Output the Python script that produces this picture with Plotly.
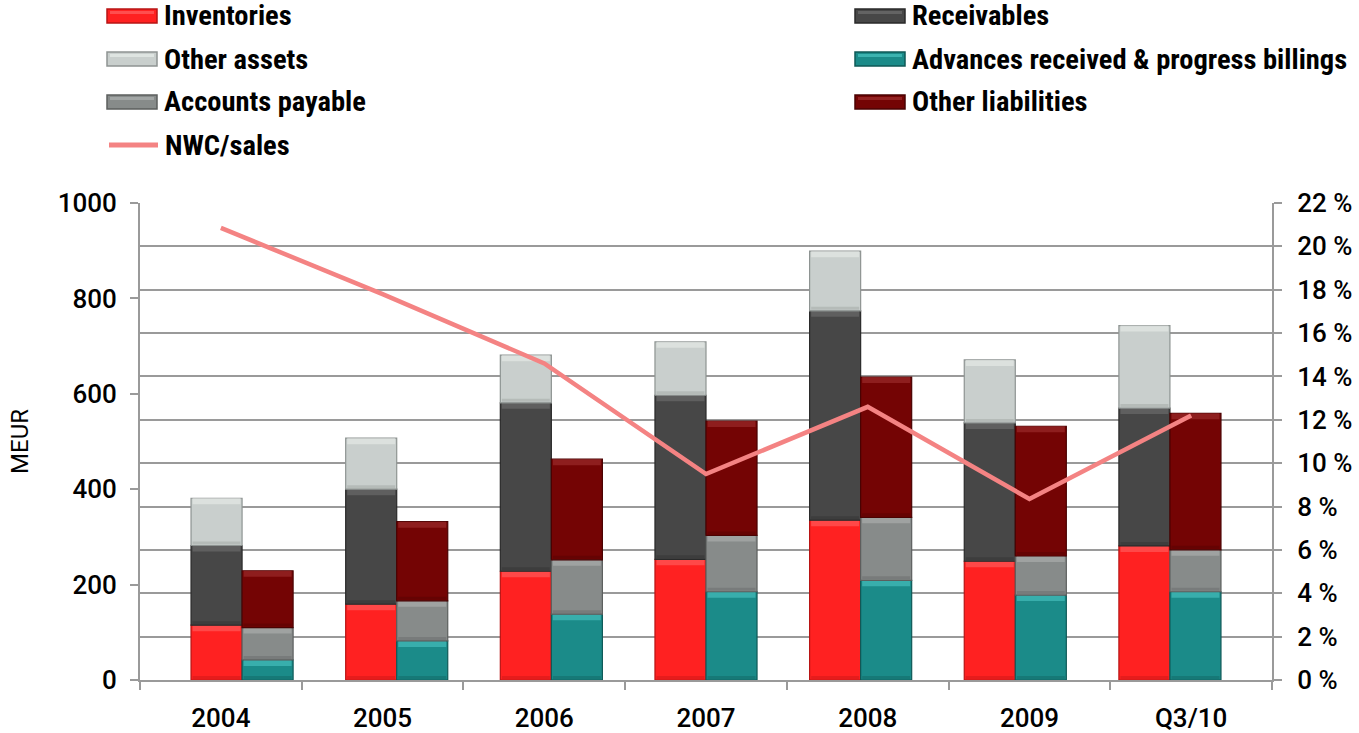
import numpy as np
import plotly.graph_objects as go

# ---- data (MEUR) ----
periods = ["2004", "2005", "2006", "2007", "2008", "2009", "Q3/10"]

inventories = [115, 159, 228, 253, 335, 249, 281]
receivables = [167, 241, 353, 344, 439, 290, 289]
other_assets = [99, 107, 100, 112, 125, 132, 173]

advances = [42, 82, 138, 185, 209, 178, 185]
accounts_payable = [68, 84, 114, 118, 132, 82, 88]
other_liabilities = [119, 166, 211, 240, 294, 272, 286]

nwc_sales = [20.85, 17.8, 14.6, 9.5, 12.6, 8.35, 12.2]  # %

# ---- styling ----
C_INV = "#FF2121"
C_REC = "#474747"
C_OA = "#C9CFCD"
C_ADV = "#1B8B89"
C_AP = "#878B8A"
C_OL = "#740404"
C_LINE = "#F48383"
EDGE = {
    C_INV: "#B81414", C_REC: "#2A2A2A", C_OA: "#8E9492",
    C_ADV: "#0F5957", C_AP: "#5C5F5E", C_OL: "#4A0202",
}
LIGHT = {
    C_INV: "#FF5A5A", C_REC: "#6A6A6A", C_OA: "#E4E8E6",
    C_ADV: "#45BDBA", C_AP: "#A9ACAB", C_OL: "#9A2A2A",
}
AXIS_C = "#9A9A9A"
TICK_FONT = dict(family="Roboto, DejaVu Sans, sans-serif", size=26, color="#000000",
                 weight=500)
LEG_FONT = dict(family="Liberation Sans Narrow, Roboto Condensed, DejaVu Sans Condensed, sans-serif",
                size=28.5, color="#000000", weight="bold")

W, H = 1359, 733
ML, MR, MT, MB = 140, 87, 203, 53
PW, PH = W - ML - MR, H - MT - MB

BAR_W = 0.33
UNITS_PER_PX = 1000 / PH
HI = 6 * UNITS_PER_PX   # highlight band height on top of each block
LO = 3 * UNITS_PER_PX   # shaded band at the bottom of each block

fig = go.Figure()


def add_stack(names, series, colors, offset):
    base = np.zeros(len(periods))
    for name, vals, col in zip(names, series, colors):
        vals = np.asarray(vals, dtype=float)
        fig.add_trace(go.Bar(
            x=periods, y=vals, base=base.copy(), name=name,
            width=BAR_W, offset=offset,
            marker=dict(color=col, line=dict(color=EDGE[col], width=1.2)),
            xaxis="x", yaxis="y", showlegend=False,
        ))
        # bevel: light band along the top edge, darker band along the bottom
        top = base + vals
        fig.add_trace(go.Bar(
            x=periods, y=np.full(len(periods), HI), base=top - HI,
            width=BAR_W * 0.94, offset=offset + BAR_W * 0.03,
            marker=dict(color=LIGHT[col], line=dict(width=0), opacity=0.7),
            xaxis="x", yaxis="y", showlegend=False, hoverinfo="skip",
        ))
        fig.add_trace(go.Bar(
            x=periods, y=np.full(len(periods), LO), base=base + UNITS_PER_PX,
            width=BAR_W * 0.94, offset=offset + BAR_W * 0.03,
            marker=dict(color=EDGE[col], line=dict(width=0), opacity=0.35),
            xaxis="x", yaxis="y", showlegend=False, hoverinfo="skip",
        ))
        base = top


add_stack(["Inventories", "Receivables", "Other assets"],
          [inventories, receivables, other_assets],
          [C_INV, C_REC, C_OA], -BAR_W)
add_stack(["Advances received & progress billings", "Accounts payable", "Other liabilities"],
          [advances, accounts_payable, other_liabilities],
          [C_ADV, C_AP, C_OL], 0)

fig.add_trace(go.Scatter(
    x=periods, y=nwc_sales, name="NWC/sales", mode="lines",
    line=dict(color=C_LINE, width=4.5),
    xaxis="x2", yaxis="y2", showlegend=False,
))

# ---- legend drawn as shapes + text ----
def px_x(p):
    return (p - ML) / PW


def px_y(p):
    return (H - MB - p) / PH


legend_items = [
    ("Inventories", C_INV, 107, 16),
    ("Receivables", C_REC, 855, 16),
    ("Other assets", C_OA, 107, 59),
    ("Advances received & progress billings", C_ADV, 855, 59),
    ("Accounts payable", C_AP, 107, 102),
    ("Other liabilities", C_OL, 855, 102),
]
shapes = []
annotations = []
for label, col, x0, yc in legend_items:
    shapes.append(dict(
        type="rect", xref="paper", yref="paper",
        x0=px_x(x0), x1=px_x(x0 + 50), y0=px_y(yc + 7), y1=px_y(yc - 7),
        fillcolor=col, line=dict(color=EDGE[col], width=1.5),
    ))
    shapes.append(dict(
        type="rect", xref="paper", yref="paper",
        x0=px_x(x0 + 3), x1=px_x(x0 + 47), y0=px_y(yc - 2), y1=px_y(yc - 5),
        fillcolor=LIGHT[col], line=dict(width=0), opacity=0.8,
    ))
    annotations.append(dict(
        text=label, xref="paper", yref="paper", x=px_x(x0 + 55), y=px_y(yc),
        xanchor="left", yanchor="middle", showarrow=False, font=LEG_FONT,
    ))
shapes.append(dict(
    type="line", xref="paper", yref="paper",
    x0=px_x(109), x1=px_x(158), y0=px_y(145), y1=px_y(145),
    line=dict(color=C_LINE, width=5),
))
annotations.append(dict(
    text="NWC/sales", xref="paper", yref="paper", x=px_x(163), y=px_y(145),
    xanchor="left", yanchor="middle", showarrow=False, font=LEG_FONT,
))

fig.update_layout(
    width=W, height=H, autosize=False,
    margin=dict(l=ML, r=MR, t=MT, b=MB),
    paper_bgcolor="white", plot_bgcolor="white",
    barmode="overlay",
    shapes=shapes, annotations=annotations,
    xaxis=dict(
        type="category", categoryarray=periods, range=[-0.66, 6.66],
        visible=False, fixedrange=True, automargin=False,
    ),
    xaxis2=dict(
        type="category", categoryarray=periods, range=[-0.5, 6.5],
        overlaying="x", anchor="y2", side="bottom", automargin=False,
        showline=True, linecolor=AXIS_C, linewidth=2,
        ticks="outside", tickson="boundaries", ticklen=8, tickwidth=2,
        tickcolor=AXIS_C, showgrid=False, tickfont=TICK_FONT,
        ticklabelstandoff=14,
    ),
    yaxis=dict(
        range=[0, 1000], dtick=200, showgrid=False, zeroline=False,
        automargin=False,
        showline=True, linecolor=AXIS_C, linewidth=2,
        ticks="outside", ticklen=8, tickwidth=2, tickcolor=AXIS_C,
        tickfont=TICK_FONT, ticklabelstandoff=8,
        title=dict(text="MEUR", font=dict(family="Roboto, DejaVu Sans, sans-serif",
                                          size=24, color="#000", weight=400),
                   standoff=22),
    ),
    yaxis2=dict(
        range=[0, 22], dtick=2, ticksuffix=" %", overlaying="y", side="right",
        anchor="x2", automargin=False,
        showgrid=True, gridcolor=AXIS_C, gridwidth=1.5, zeroline=False,
        showline=True, linecolor=AXIS_C, linewidth=2,
        ticks="outside", ticklen=8, tickwidth=2, tickcolor=AXIS_C,
        tickfont=TICK_FONT, ticklabelstandoff=10,
    ),
)

fig.write_html("out.html")
